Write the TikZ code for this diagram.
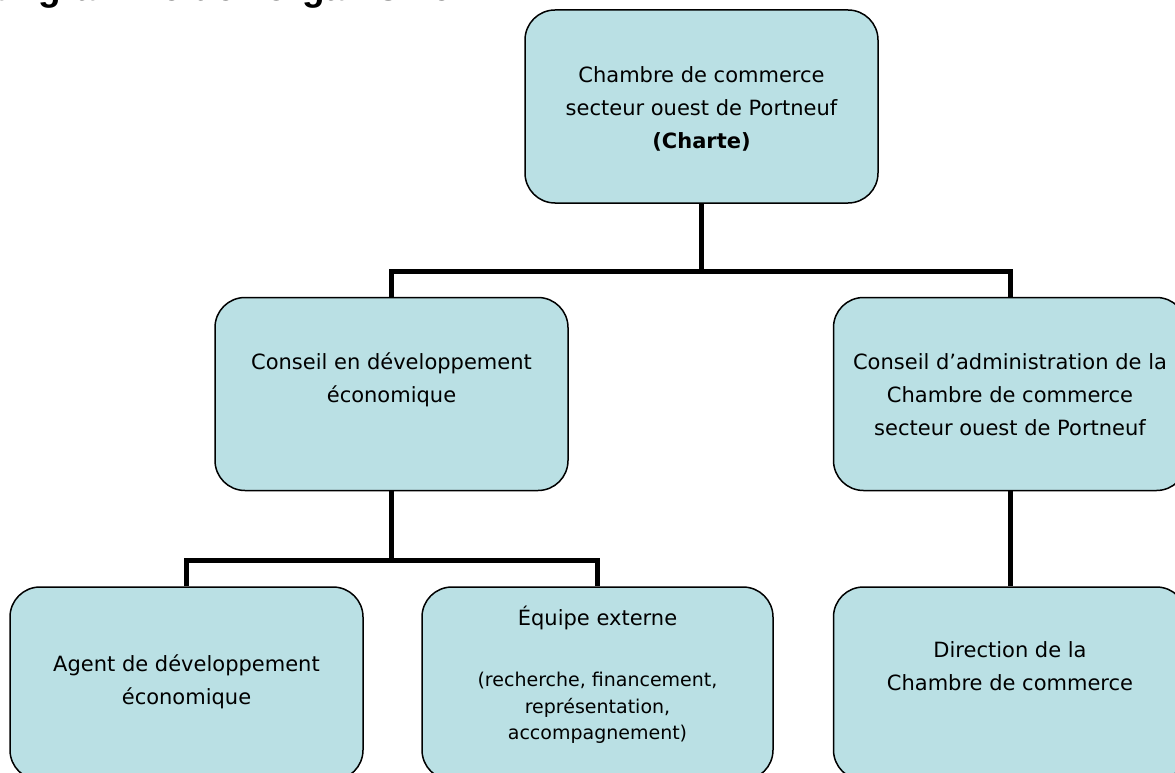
\documentclass[tikz,border=0pt]{standalone}
\usepackage{fontspec}
\setmainfont{DejaVu Sans}
\newfontfamily\titlefont{Liberation Sans}
\definecolor{boxfill}{RGB}{186,224,228}
\begin{document}
\begin{tikzpicture}[x=1pt,y=-1pt,
  orgbox/.style={shape=rectangle, draw=black, line width=1.5pt, fill=boxfill,
    rounded corners=30pt, minimum width=353pt, minimum height=193pt, inner sep=0pt},
  conn/.style={draw=black, line width=5pt},
  lbl/.style={anchor=north, align=center, inner sep=0pt,
    font=\fontsize{21}{33}\selectfont, execute at begin node={\rule{0pt}{21pt}}},
  sublbl/.style={anchor=north, align=center, inner sep=0pt,
    font=\fontsize{19}{26.5}\selectfont, execute at begin node={\rule{0pt}{18pt}}},
  ttl/.style={anchor=north west, inner sep=0pt, text height=0pt, text depth=0pt,
    font=\titlefont\bfseries\fontsize{37}{40}\selectfont}]
\useasboundingbox (0,0) rectangle (1175,773);
\begin{scope}
\clip (0,0) rectangle (1175,773);
\node[ttl] (title) at (-81,-0.5) {Organigramme de l'organisme};
% boxes
\node[orgbox] (top) at (701.5,106.5) {};
\node[orgbox] (cd) at (391.5,394) {};
\node[orgbox] (ca) at (1010,394) {};
\node[orgbox] (agent) at (186.5,683.5) {};
\node[orgbox, minimum width=351pt] (equipe) at (597.5,683.5) {};
\node[orgbox] (direction) at (1010,683.5) {};
% connectors
\coordinate (j1) at (701.5,271);
\coordinate (j2) at (391.5,560);
\draw[conn] (top.south) -- (j1);
\draw[conn] (cd.north) |- (j1) -| (ca.north);
\draw[conn] (cd.south) -- (j2);
\draw[conn] (agent.north) |- (j2) -| (equipe.north);
\draw[conn] (ca.south) -- (direction.north);
% labels
\node[lbl] (ttop) at (701.5,66) {Chambre de commerce\\secteur ouest de Portneuf\\\textbf{(Charte)}};
\node[lbl] (tcd) at (391.5,353) {Conseil en développement\\économique};
\node[lbl] (tca) at (1010,353) {Conseil d’administration de la\\Chambre de commerce\\secteur ouest de Portneuf};
\node[lbl] (tagent) at (186.5,654) {Agent de développement\\économique};
\node[lbl] (tequipe) at (597.5,604) {Équipe externe};
\node[sublbl] (tequipe2) at (597.5,672) {(recherche, financement,\\représentation,\\accompagnement)};
\node[lbl] (tdirection) at (1010,641) {Direction de la\\Chambre de commerce};
\end{scope}
\end{tikzpicture}
\end{document}
